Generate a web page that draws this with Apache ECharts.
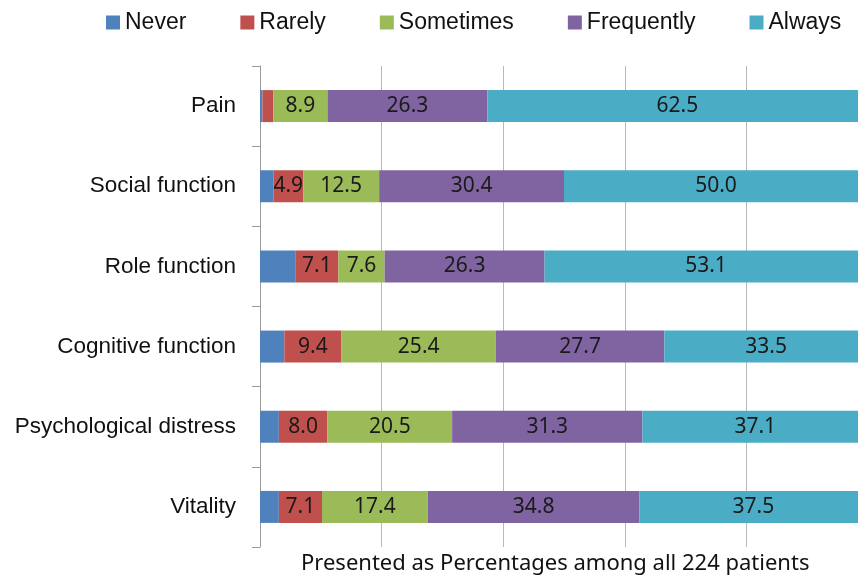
<!DOCTYPE html>
<html>
<head>
<meta charset="utf-8">
<title>Symptom frequency</title>
<script src="https://cdn.jsdelivr.net/npm/echarts@6/dist/echarts.min.js"></script>
<style>
  html, body { margin: 0; padding: 0; background: #fff; }
  #chart { width: 858px; height: 577px; }
</style>
</head>
<body>
<div id="chart"></div>
<script>
// categories, top to bottom
var categories = ['Pain', 'Social function', 'Role function', 'Cognitive function', 'Psychological distress', 'Vitality']

// percentages among all 224 patients
var never      = [0.4, 2.2, 5.8, 4.0, 3.1, 3.1]
var rarely     = [1.8, 4.9, 7.1, 9.4, 8.0, 7.1]
var sometimes  = [8.9, 12.5, 7.6, 25.4, 20.5, 17.4]
var frequently = [26.3, 30.4, 26.3, 27.7, 31.3, 34.8]
var always     = [62.5, 50.0, 53.1, 33.5, 37.1, 37.5]

var seriesNames = ['Never', 'Rarely', 'Sometimes', 'Frequently', 'Always']
var seriesData = [never, rarely, sometimes, frequently, always]
var colors = ['#4F81BD', '#C0504D', '#9BBB59', '#8064A2', '#4BACC6']

var footnote = 'Presented as Percentages among all 224 patients'

var chart = echarts.init(document.getElementById('chart'))

var series = seriesNames.map(function (name, i) {
  return {
    name: name,
    type: 'bar',
    stack: 'total',
    barWidth: 32,
    itemStyle: { color: colors[i] },
    label: {
      show: i > 0,
      position: 'inside',
      color: '#1a1a1a',
      fontFamily: 'Noto Sans',
      fontSize: 21,
      formatter: function (p) {
        return p.value >= 4 ? p.value.toFixed(1) : ''
      }
    },
    data: seriesData[i]
  }
})

chart.setOption({
  animation: false,
  color: colors,
  legend: {
    left: 101,
    top: 6,
    itemWidth: 14,
    itemHeight: 14,
    itemGap: 54,
    icon: 'rect',
    textStyle: {
      color: '#111',
      fontFamily: 'Liberation Sans',
      fontSize: 23
    },
    data: seriesNames
  },
  // the right end of the axis (100%) lies just past the picture edge
  grid: {
    left: 260,
    top: 66,
    width: 608,
    height: 481,
    outerBoundsMode: 'none'
  },
  xAxis: {
    type: 'value',
    min: 0,
    max: 100,
    interval: 20,
    axisLine: { show: false },
    axisTick: { show: false },
    axisLabel: { show: false },
    splitLine: {
      lineStyle: { color: '#b8b8b8', width: 1 }
    }
  },
  yAxis: {
    type: 'category',
    inverse: true,
    data: categories,
    axisLine: {
      show: true,
      lineStyle: { color: '#9a9a9a', width: 1 }
    },
    axisTick: {
      show: true,
      length: 8,
      lineStyle: { color: '#9a9a9a', width: 1 }
    },
    axisLabel: {
      margin: 24,
      color: '#111',
      fontFamily: 'Liberation Sans',
      fontSize: 22.5
    }
  },
  graphic: [
    {
      type: 'text',
      left: 301,
      top: 553,
      style: {
        text: footnote,
        fill: '#111',
        font: '22px "Noto Sans"'
      }
    }
  ],
  series: series
})
</script>
</body>
</html>
